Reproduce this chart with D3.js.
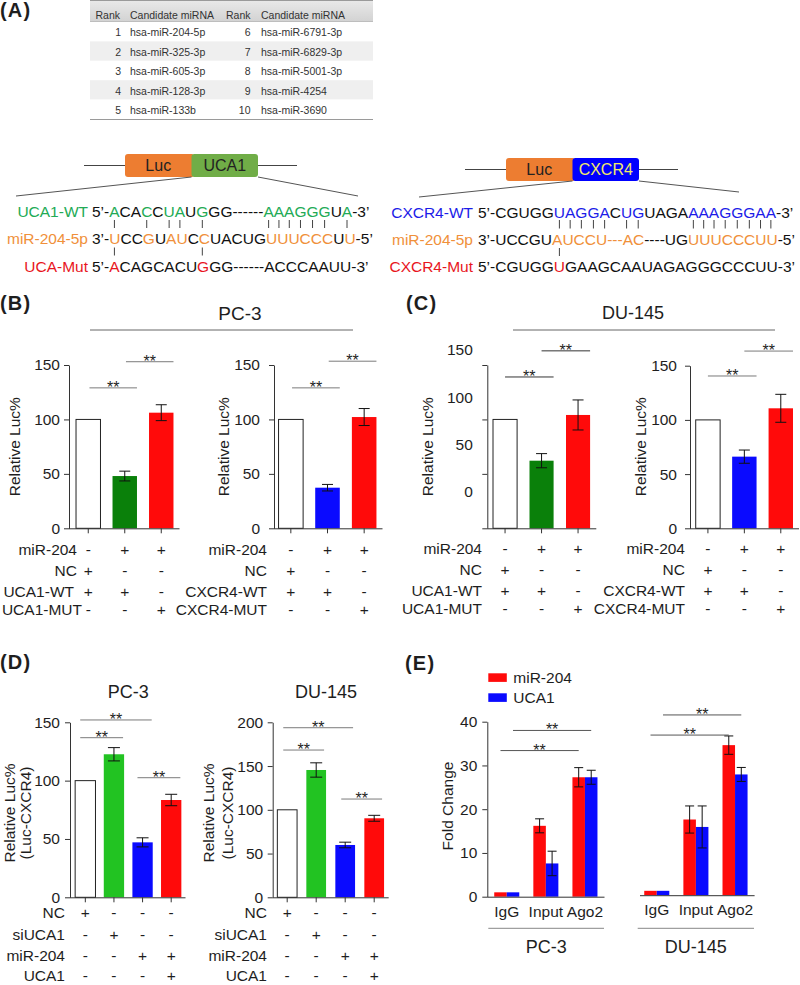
<!DOCTYPE html>
<html><head><meta charset="utf-8">
<script src="https://cdn.jsdelivr.net/npm/d3@7"></script>
<style>
body{margin:0;background:#fff;}
svg{display:block;font-family:"Liberation Sans",Arial,Helvetica,sans-serif;}
</style></head><body>
<svg id="fig" width="800" height="985"></svg>
<script>
// ================= DATA =================
const tableHeader = ["Rank","Candidate miRNA","Rank","Candidate miRNA"];
const tableRankA = [1,2,3,4,5];
const tableMirA = ["hsa-miR-204-5p","hsa-miR-325-3p","hsa-miR-605-3p","hsa-miR-128-3p","hsa-miR-133b"];
const tableRankB = [6,7,8,9,10];
const tableMirB = ["hsa-miR-6791-3p","hsa-miR-6829-3p","hsa-miR-5001-3p","hsa-miR-4254","hsa-miR-3690"];

// sequence segments [text, colour key]
const seqUCA1WT  = [["5’-","k"],["A","g"],["CA","k"],["C","g"],["C","k"],["UA","g"],["U","k"],["G","g"],["GG------","k"],["AAAGGG","g"],["U","k"],["A","g"],["-3’","k"]];
const seqMiR_U   = [["3’-","k"],["U","o"],["CC","k"],["G","o"],["U","k"],["AU","o"],["C","k"],["C","o"],["UACUG","k"],["UUUCCC","o"],["U","k"],["U","o"],["-5’","k"]];
const seqUCA1Mut = [["5’-","k"],["A","r"],["CAGCACU","k"],["G","r"],["GG------ACCCAAUU-3’","k"]];
const seqCXCR4WT = [["5’-CGUGG","k"],["UAGGA","b"],["C","k"],["UG","b"],["UAGA","k"],["AAAGGGAA","b"],["-3’","k"]];
const seqMiR_C   = [["3’-UCCGU","k"],["AUCCU---AC","o"],["----UG","k"],["UUUCCCUU","o"],["-5’","k"]];
const seqCXCR4Mut= [["5’-CGUGG","k"],["U","r"],["GAAGCAAUAGAGGGCCCUU-3’","k"]];
const uca1PairTop = [3,6,8,9,11,20,21,22,23,24,25,27];
const uca1PairBottom = [3,11];
const cxcr4PairTop = [8,9,10,11,12,14,15,20,21,22,23,24,25,26,27];
const cxcr4PairBottom = [8];

// Panel B / C
const bcSignMiR = ["-","+","+"];
const bcSignNC  = ["+","-","-"];
const bcSignWT  = ["+","+","-"];
const bcSignMUT = ["-","-","+"];
const pc3UCA1 = [100, 48.0, 106.2],  pc3UCA1Err = [0, 4.5, 7.3];
const pc3CXCR4 = [100, 37.3, 102.2], pc3CXCR4Err = [0, 3.0, 7.8];
const du145UCA1 = [100, 62.1, 104.1], du145UCA1Err = [0, 6.5, 13.8];
const du145CXCR4 = [100, 66.1, 110.7], du145CXCR4Err = [0, 6.1, 12.9];
const bcTicks = [0, 50, 100, 150];
const pc3UCA1Sig = [[0,1,129],[1,2,153]];
const pc3CXCR4Sig = [[0,1,129],[1,2,153.5]];
const du145UCA1Sig = [[0,1,139],[1,2,163]];
const du145CXCR4Sig = [[0,1,140.5],[1,2,163.5]];

// Panel D
const dSignNC  = ["+","-","-","-"];
const dSignSi  = ["-","+","-","-"];
const dSignMiR = ["-","-","+","+"];
const dSignUCA = ["-","-","-","+"];
const dPC3 = [100, 122.6, 47.1, 83.4], dPC3Err = [0, 5.7, 3.9, 4.9];
const dDU145 = [100, 145.5, 59.8, 90.3], dDU145Err = [0, 8.2, 3.2, 3.4];
const dPC3Ticks = [0, 50, 100, 150];
const dDU145Ticks = [0, 50, 100, 150, 200];
const dPC3Sig = [[0,2,152],[0,1,136.8],[2,3,102.5]];
const dDU145Sig = [[0,2,193.8],[0,1,168.3],[2,3,112.3]];

// Panel E
const eGroups = ["IgG","Input","Ago2"];
const eSeries = ["miR-204","UCA1"];
const ePC3Mir = [1.0, 16.2, 27.3], ePC3MirErr = [0, 1.6, 2.2];
const ePC3UCA1 = [1.0, 7.6, 27.3], ePC3UCA1Err = [0, 2.8, 1.6];
const eDUMir = [1.0, 17.3, 34.3], eDUMirErr = [0, 3.1, 2.1];
const eDUUCA1 = [1.0, 15.6, 27.6], eDUUCA1Err = [0, 4.8, 1.6];
const eTicks = [0, 10, 20, 30, 40];
const ePC3Sig = [[0,2,0,33.4],[0,2,1,38.0]];
const eDUSig = [[0,2,0,36.6],[0,2,1,41.2]];

// ================= DRAW =================
const svg = d3.select("#fig");
const INK = "#1e1e1e";
const SEQC = {k:"#111", g:"#22aa55", o:"#f0903a", r:"#e8161e", b:"#1c1ce8"};
const RED = "#ff0a0a", BLUE = "#0a0aff", DGREEN = "#0a800a", LGREEN = "#22c322", WHITE = "#ffffff";

function txt(g, x, y, s, size, opt = {}) {
  return g.append("text").attr("x", x).attr("y", y).text(s)
    .attr("font-size", size).attr("fill", opt.fill || INK)
    .attr("text-anchor", opt.anchor || "start")
    .attr("font-weight", opt.weight || "normal")
    .attr("dy", opt.dy || null);
}
function line(g, x1, y1, x2, y2, col = "#555", w = 1) {
  g.append("line").attr("x1", x1).attr("y1", y1).attr("x2", x2).attr("y2", y2)
    .attr("stroke", col).attr("stroke-width", w);
}

// panel letters
[["(A)",0,17],["(B)",0,310],["(C)",406,310],["(D)",0,669],["(E)",405,670]].forEach(([s,x,y]) =>
  txt(svg, x, y, s, 20, {weight:"bold"}).attr("letter-spacing", 1.2));

// ---------- table ----------
(function () {
  const g = svg.append("g");
  const defs = svg.append("defs");
  const gr = defs.append("linearGradient").attr("id","hdr").attr("x1",0).attr("y1",0).attr("x2",0).attr("y2",1);
  gr.append("stop").attr("offset","0%").attr("stop-color","#e9e9e9");
  gr.append("stop").attr("offset","100%").attr("stop-color","#d2d2d2");
  const x0 = 90, x1 = 373, hH = 22, rH = 19.4;
  g.append("rect").attr("x", x0).attr("y", 0).attr("width", x1 - x0).attr("height", hH).attr("fill", "url(#hdr)");
  line(g, x0, 0.5, x1, 0.5, "#9a9a9a");
  line(g, x0, hH, x1, hH, "#a8a8a8");
  const rows = d3.range(tableRankA.length);
  g.selectAll("rect.row").data(rows).join("rect")
    .attr("x", x0).attr("y", i => hH + i * rH).attr("width", x1 - x0).attr("height", rH)
    .attr("fill", i => i % 2 ? "#efefef" : "#fff");
  line(g, x0, hH + rows.length * rH + 0.5, x1, hH + rows.length * rH + 0.5, "#9a9a9a");
  const fs = 10.5, col = "#333";
  const hx = [[120,"end"],[130,"start"],[250.5,"end"],[261,"start"]];
  tableHeader.forEach((h, i) => txt(g, hx[i][0], 15, h, fs, {fill: col, anchor: hx[i][1], dy: "0.35em"}));
  rows.forEach(i => {
    const cy = hH + (i + 0.5) * rH + 1;
    txt(g, 121, cy, tableRankA[i], fs, {fill: col, anchor: "end", dy: "0.35em"});
    txt(g, 130, cy, tableMirA[i], fs, {fill: col, dy: "0.35em"});
    txt(g, 250.5, cy, tableRankB[i], fs, {fill: col, anchor: "end", dy: "0.35em"});
    txt(g, 261, cy, tableMirB[i], fs, {fill: col, dy: "0.35em"});
  });
})();

// ---------- constructs & sequences ----------
function construct(g, x, y, geneName, geneFill, geneText, diagL, diagR) {
  const w = 66.5, h = 23;
  line(g, x - 41, y + h / 2, x, y + h / 2, "#444");
  line(g, x + 2 * w, y + h / 2, x + 2 * w + 39, y + h / 2, "#444");
  g.append("rect").attr("x", x).attr("y", y).attr("width", w + 3).attr("height", h).attr("rx", 3).attr("fill", "#ed7d31");
  g.append("rect").attr("x", x + w).attr("y", y).attr("width", w).attr("height", h).attr("rx", 3).attr("fill", geneFill);
  txt(g, x + w / 2, y + h / 2, "Luc", 16, {anchor: "middle", dy: "0.36em", fill: "#222"});
  txt(g, x + 1.5 * w, y + h / 2, geneName, 16, {anchor: "middle", dy: "0.36em", fill: geneText});
  line(g, x + w, y + h, diagL[0], diagL[1], "#555");
  line(g, x + 2 * w, y + h, diagR[0], diagR[1], "#555");
}
function seqRow(g, x, y, segs) {
  const t = g.append("text").attr("x", x).attr("y", y).attr("font-size", 15.5);
  segs.forEach(([s, c]) => t.append("tspan").text(s).attr("fill", SEQC[c]));
  return t;
}
function pairs(g, textSel, idxs, y1, y2) {
  const n = textSel.node();
  idxs.forEach(i => {
    const e = n.getExtentOfChar(i);
    const cx = e.x + e.width / 2;
    line(g, cx, y1, cx, y2, "#444");
  });
}
(function () {
  const g = svg.append("g");
  construct(g, 125, 154, "UCA1", "#70ad47", "#222", [16, 196], [358, 196]);
  construct(g, 506, 158, "CXCR4", "#0000ff", "#f2ea6a", [419, 197], [739, 192]);
  // UCA1
  txt(g, 88, 216.5, "UCA1-WT", 15.5, {anchor: "end", fill: SEQC.g});
  txt(g, 88, 243.5, "miR-204-5p", 15.5, {anchor: "end", fill: SEQC.o});
  txt(g, 88, 271.5, "UCA-Mut", 15.5, {anchor: "end", fill: SEQC.r});
  const t1 = seqRow(g, 92, 216.5, seqUCA1WT);
  seqRow(g, 92, 243.5, seqMiR_U);
  seqRow(g, 92, 271.5, seqUCA1Mut);
  pairs(g, t1, uca1PairTop, 220, 228);
  pairs(g, t1, uca1PairBottom, 247.5, 255.5);
  // CXCR4
  txt(g, 473, 217.5, "CXCR4-WT", 15.5, {anchor: "end", fill: SEQC.b});
  txt(g, 473, 244.5, "miR-204-5p", 15.5, {anchor: "end", fill: SEQC.o});
  txt(g, 473, 271.5, "CXCR4-Mut", 15.5, {anchor: "end", fill: SEQC.r});
  const t2 = seqRow(g, 478, 217.5, seqCXCR4WT);
  seqRow(g, 478, 244.5, seqMiR_C);
  seqRow(g, 478, 271.5, seqCXCR4Mut);
  pairs(g, t2, cxcr4PairTop, 220, 228.5);
  pairs(g, t2, cxcr4PairBottom, 248, 256);
})();

// ---------- generic bar chart ----------
function styleAxis(sel, fs) {
  sel.selectAll("path").attr("stroke", "#333");
  sel.selectAll("line").attr("stroke", "#333");
  sel.selectAll("text").attr("font-size", fs).attr("fill", INK).attr("font-family", null);
  sel.attr("font-family", null);
}
function barChart(o) {
  const g = svg.append("g");
  const n = o.values.length;
  const x = d3.scaleBand().domain(d3.range(n)).range(o.xr).paddingInner(o.pad).paddingOuter(o.pad / 2);
  const y = d3.scaleLinear().domain(o.yd).range(o.yr);
  const bw = x.bandwidth();
  const cx = i => x(i) + bw / 2;
  // bars
  g.selectAll("rect.bar").data(o.values).join("rect")
    .attr("x", (d, i) => x(i)).attr("width", bw)
    .attr("y", d => y(d)).attr("height", d => y(0) - y(d))
    .attr("fill", (d, i) => o.colors[i])
    .attr("stroke", (d, i) => o.colors[i] === WHITE ? "#222" : "none").attr("stroke-width", 1);
  // error bars
  o.values.forEach((v, i) => {
    const e = o.errs[i];
    if (!e) return;
    const cw = o.cap / 2;
    line(g, cx(i), y(v - e), cx(i), y(v + e), "#111");
    line(g, cx(i) - cw, y(v + e), cx(i) + cw, y(v + e), "#111");
    line(g, cx(i) - cw, y(v - e), cx(i) + cw, y(v - e), "#111");
  });
  // y axis
  const ya = g.append("g").attr("transform", `translate(${o.ax},0)`)
    .call(d3.axisLeft(y).tickValues(o.ticks).tickSize(5).tickSizeOuter(0).tickPadding(o.lblGap - 5)
      .tickFormat(o.labelRange ? () => "" : d3.format("d")));
  styleAxis(ya, 15.5);
  if (o.labelRange) {
    const yl = d3.scaleLinear().domain(o.yd).range(o.labelRange);
    o.ticks.forEach(t => txt(g, o.ax - o.lblGap, yl(t), t, 15.5, {anchor: "end", dy: "0.35em"}));
  }
  // x axis
  line(g, o.ax, y(0) + 0.5, o.xr[1], y(0) + 0.5, "#333");
  d3.range(n).forEach(i => line(g, cx(i), y(0), cx(i), y(0) + 5, "#333"));
  // y label
  o.ylab.forEach(([s, lx]) => txt(g, 0, 0, s, 15.5, {anchor: "middle", dy: "0.35em"})
    .attr("transform", `translate(${lx},${o.ylabY}) rotate(-90)`));
  // significance
  o.sig.forEach(([i, j, v]) => {
    const x1 = x(i) + bw * o.bs, x2 = x(j) + bw * o.be, yy = y(v);
    line(g, x1, yy, x2, yy, o.sigCol);
    txt(g, (x1 + x2) / 2, yy + 5, "**", 16, {anchor: "middle"});
  });
  // sign rows
  o.rows.forEach(([lab, signs, ry, lx]) => {
    txt(g, lx != null ? lx : o.rowLblX, ry, lab, 15.5, {anchor: "end", dy: "0.35em"});
    signs.forEach((s, i) => txt(g, cx(i), ry, s, 15.5, {anchor: "middle", dy: "0.35em"}));
  });
  return g;
}
function titleLine(s, cx, ty, lx1, lx2, ly, fs) {
  txt(svg, cx, ty, s, fs, {anchor: "middle", dy: "0.35em"});
  if (lx1 != null) line(svg, lx1, ly, lx2, ly, "#666");
}

// ---------- Panel B ----------
titleLine("PC-3", 240, 313, 90, 353, 330, 19);
const bcRowsY = [549.5, 570.5, 591.5, 609.5];
barChart({values: pc3UCA1, errs: pc3UCA1Err, colors: [WHITE, DGREEN, RED],
  xr: [70, 179.5], pad: 0.33, ax: 69, yd: [0, 150], yr: [528.3, 365], ticks: bcTicks, lblGap: 9, cap: 11,
  ylab: [["Relative Luc%", 15]], ylabY: 446.7,
  sig: pc3UCA1Sig, bs: 0.55, be: 1.0, sigCol: "#7a7a7a",
  rowLblX: 77, rows: [["miR-204", bcSignMiR, bcRowsY[0]], ["NC", bcSignNC, bcRowsY[1]], ["UCA1-WT", bcSignWT, bcRowsY[2], 74], ["UCA1-MUT", bcSignMUT, bcRowsY[3], 82]]});
barChart({values: pc3CXCR4, errs: pc3CXCR4Err, colors: [WHITE, BLUE, RED],
  xr: [272.5, 382.5], pad: 0.33, ax: 274, yd: [0, 150], yr: [528.3, 365], ticks: bcTicks, lblGap: 14, cap: 11,
  ylab: [["Relative Luc%", 223.5]], ylabY: 446.7,
  sig: pc3CXCR4Sig, bs: 0.55, be: 1.0, sigCol: "#7a7a7a",
  rowLblX: 267, rows: [["miR-204", bcSignMiR, bcRowsY[0]], ["NC", bcSignNC, bcRowsY[1]], ["CXCR4-WT", bcSignWT, bcRowsY[2]], ["CXCR4-MUT", bcSignMUT, bcRowsY[3]]]});

// ---------- Panel C ----------
titleLine("DU-145", 633, 313, 513, 775, 330, 18);
const cRowsY = [548.5, 570, 591, 608.5];
barChart({values: du145UCA1, errs: du145UCA1Err, colors: [WHITE, DGREEN, RED],
  xr: [486.8, 596.3], pad: 0.34, ax: 487.3, yd: [0, 150], yr: [528.3, 365], labelRange: [491.7, 350],
  ticks: bcTicks, lblGap: 14.5, cap: 11,
  ylab: [["Relative Luc%", 427.5]], ylabY: 446.7,
  sig: du145UCA1Sig, bs: 0.5, be: 1.0, sigCol: "#333",
  rowLblX: 482, rows: [["miR-204", bcSignMiR, cRowsY[0]], ["NC", bcSignNC, cRowsY[1]], ["UCA1-WT", bcSignWT, cRowsY[2]], ["UCA1-MUT", bcSignMUT, cRowsY[3]]]});
barChart({values: du145CXCR4, errs: du145CXCR4Err, colors: [WHITE, BLUE, RED],
  xr: [689.7, 799], pad: 0.33, ax: 690, yd: [0, 150], yr: [528.3, 365.7], ticks: bcTicks, lblGap: 13, cap: 11,
  ylab: [["Relative Luc%", 641]], ylabY: 446.7,
  sig: du145CXCR4Sig, bs: 0.5, be: 1.0, sigCol: "#7a7a7a",
  rowLblX: 685, rows: [["miR-204", bcSignMiR, cRowsY[0]], ["NC", bcSignNC, cRowsY[1]], ["CXCR4-WT", bcSignWT, cRowsY[2]], ["CXCR4-MUT", bcSignMUT, cRowsY[3]]]});

// ---------- Panel D ----------
titleLine("PC-3", 128.3, 691.7, null, null, null, 18);
titleLine("DU-145", 326, 691.7, null, null, null, 18);
const dRowsY = [913, 934.5, 955.5, 976];
const dRowsOf = () => [["NC", dSignNC, dRowsY[0]], ["siUCA1", dSignSi, dRowsY[1]], ["miR-204", dSignMiR, dRowsY[2]], ["UCA1", dSignUCA, dRowsY[3]]];
barChart({values: dPC3, errs: dPC3Err, colors: [WHITE, LGREEN, BLUE, RED],
  xr: [71, 185.5], pad: 0.29, ax: 70, yd: [0, 150], yr: [897.3, 722.3], ticks: dPC3Ticks, lblGap: 10, cap: 12,
  ylab: [["Relative Luc%", 9.5], ["(Luc-CXCR4)", 25.5]], ylabY: 813,
  sig: dPC3Sig, bs: 0.25, be: 0.95, sigCol: "#7a7a7a",
  rowLblX: 65, rows: dRowsOf()});
barChart({values: dDU145, errs: dDU145Err, colors: [WHITE, LGREEN, BLUE, RED],
  xr: [272.7, 388.7], pad: 0.32, ax: 272.7, yd: [0, 200], yr: [897.3, 722.3], ticks: dDU145Ticks, lblGap: 9.5, cap: 12,
  ylab: [["Relative Luc%", 209], ["(Luc-CXCR4)", 227.5]], ylabY: 813,
  sig: dDU145Sig, bs: 0.3, be: 0.9, sigCol: "#7a7a7a",
  rowLblX: 267, rows: dRowsOf()});

// ---------- Panel E ----------
function groupChart(o) {
  const g = svg.append("g");
  const x = d3.scaleBand().domain(eGroups).range(o.xr).paddingInner(0.36).paddingOuter(0.18);
  const xs = d3.scaleBand().domain(eSeries).range([0, x.bandwidth()]);
  const y = d3.scaleLinear().domain([0, 40]).range(o.yr);
  const colors = [RED, BLUE];
  const series = [o.mir, o.uca];
  const errs = [o.mirErr, o.ucaErr];
  series.forEach((vals, s) => {
    g.selectAll(null).data(vals).join("rect")
      .attr("x", (d, i) => x(eGroups[i]) + xs(eSeries[s])).attr("width", xs.bandwidth())
      .attr("y", d => y(d)).attr("height", d => y(0) - y(d)).attr("fill", colors[s]);
    vals.forEach((v, i) => {
      const e = errs[s][i]; if (!e) return;
      const c = x(eGroups[i]) + xs(eSeries[s]) + xs.bandwidth() / 2;
      line(g, c, y(v - e), c, y(v + e), "#111");
      line(g, c - 4.5, y(v + e), c + 4.5, y(v + e), "#111");
      line(g, c - 4.5, y(v - e), c + 4.5, y(v - e), "#111");
    });
  });
  line(g, o.axStart, y(0) + 0.5, o.xr[1], y(0) + 0.5, "#333");
  if (o.yAxis) {
    const ya = g.append("g").attr("transform", `translate(${o.axStart},0)`)
      .call(d3.axisLeft(y).tickValues(eTicks).tickSize(5).tickSizeOuter(0).tickPadding(5));
    styleAxis(ya, 15.5);
    txt(g, 0, 0, "Fold Change", 15.5, {anchor: "middle", dy: "0.35em"})
      .attr("transform", `translate(447.5,806) rotate(-90)`);
  }
  eGroups.forEach(c => txt(g, x(c) + x.bandwidth() / 2, o.catY, c, 15.5, {anchor: "middle", dy: "0.35em"}));
  o.sig.forEach(([i, j, s, v]) => {
    const x1 = x(eGroups[i]) + xs(eSeries[s]) + xs.bandwidth() / 2;
    const x2 = x(eGroups[j]) + xs(eSeries[s]) + xs.bandwidth() / 2;
    const yy = y(v);
    line(g, x1, yy, x2, yy, "#555");
    txt(g, (x1 + x2) / 2, yy + 5, "**", 16, {anchor: "middle"});
  });
  line(g, o.ulX[0], 928.3, o.ulX[1], 928.3, "#888");
  txt(g, (o.ulX[0] + o.ulX[1]) / 2, 947, o.title, 18, {anchor: "middle", dy: "0.35em"});
}
groupChart({mir: ePC3Mir, mirErr: ePC3MirErr, uca: ePC3UCA1, ucaErr: ePC3UCA1Err,
  xr: [487.2, 604.5], yr: [896.7, 721.7], axStart: 487.3, yAxis: true, catY: 911.5,
  sig: ePC3Sig, ulX: [488.3, 604], title: "PC-3"});
groupChart({mir: eDUMir, mirErr: eDUMirErr, uca: eDUUCA1, ucaErr: eDUUCA1Err,
  xr: [637.2, 754.6], yr: [895.2, 720.2], axStart: 640, yAxis: false, catY: 910,
  sig: eDUSig, ulX: [637.7, 754], title: "DU-145"});
// legend
(function () {
  const g = svg.append("g");
  const items = [[eSeries[0], RED, 677.5], [eSeries[1], BLUE, 697.5]];
  items.forEach(([s, c, cy]) => {
    g.append("rect").attr("x", 488.3).attr("y", cy - 4.2).attr("width", 18.5).attr("height", 8.6).attr("fill", c);
    txt(g, 513.3, cy, s, 15.5, {dy: "0.35em"});
  });
})();
</script>
</body></html>
